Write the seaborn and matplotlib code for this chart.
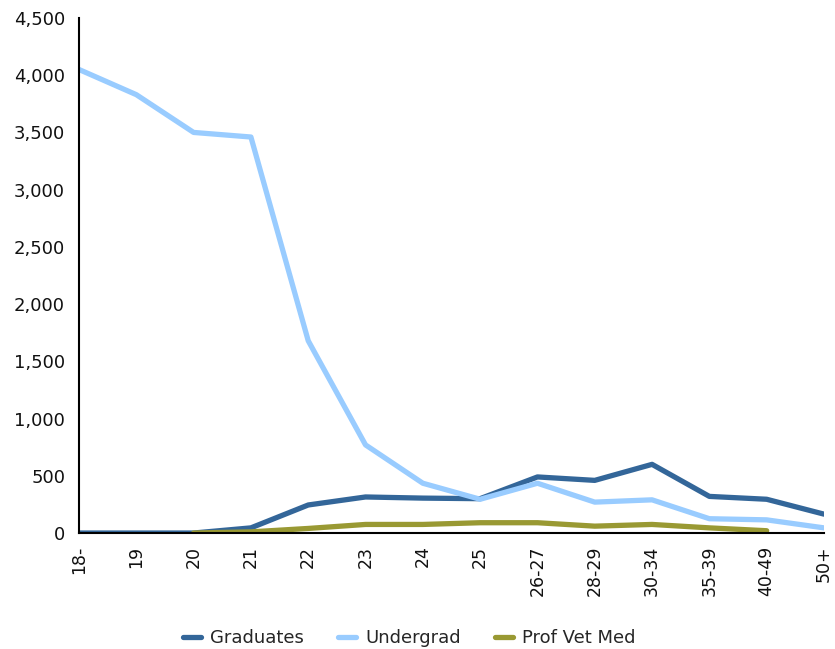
import numpy as np
import pandas as pd
import matplotlib
matplotlib.use('Agg')
import matplotlib.pyplot as plt
import matplotlib.ticker as mticker
import seaborn as sns

# age groups and counts
ages = ['18-', '19', '20', '21', '22', '23', '24', '25',
        '26-27', '28-29', '30-34', '35-39', '40-49', '50+']
graduates = [0, 0, 0, 45, 245, 315, 305, 300, 490, 460, 600, 320, 295, 165]
undergrad = [4050, 3830, 3500, 3460, 1680, 770, 435, 295, 435, 270, 290, 125, 115, 45]
prof_vet_med = [np.nan, np.nan, 0, 10, 40, 75, 75, 90, 90, 60, 75, 45, 20, np.nan]

series_names = ['Graduates', 'Undergrad', 'Prof Vet Med']
colors = ['#336699', '#99CCFF', '#999933']

df = pd.DataFrame({
    'age': ages * 3,
    'count': graduates + undergrad + prof_vet_med,
    'group': [s for s in series_names for _ in ages],
})
df = df.dropna()

sns.set_style('white')
plt.rcParams['font.family'] = ['DejaVu Sans']

fig = plt.figure(figsize=(8.35, 6.49), dpi=100)
ax = fig.add_axes([0.0946, 0.1787, 0.8922, 0.7936])

sns.lineplot(data=df, x='age', y='count', hue='group', hue_order=series_names,
             palette=colors, linewidth=3.8, sort=False, ax=ax)

ax.set_xlim(0, len(ages) - 1)
ax.set_ylim(0, 4500)
ax.set_yticks(np.arange(0, 4501, 500))
ax.yaxis.set_major_formatter(mticker.FuncFormatter(lambda v, p: f'{int(v):,}'))
ax.set_xticks(range(len(ages)))
ax.set_xticklabels(ages, rotation=90, va='top', ha='center')
ax.tick_params(axis='both', length=0, colors='#111111')
ax.tick_params(axis='x', pad=9, labelsize=12.5)
ax.tick_params(axis='y', pad=10, labelsize=13)
ax.set_xlabel('')
ax.set_ylabel('')

for side in ['top', 'right']:
    ax.spines[side].set_visible(False)
for side in ['left', 'bottom']:
    ax.spines[side].set_color('black')
    ax.spines[side].set_linewidth(1.5)

handles, labels = ax.get_legend_handles_labels()
ax.legend(handles, labels, loc='center', bbox_to_anchor=(0.443, -0.2035),
          ncol=3, frameon=False, fontsize=13, handlelength=1.0,
          columnspacing=1.9, handletextpad=0.5)

fig.savefig('out.png', dpi=100)
